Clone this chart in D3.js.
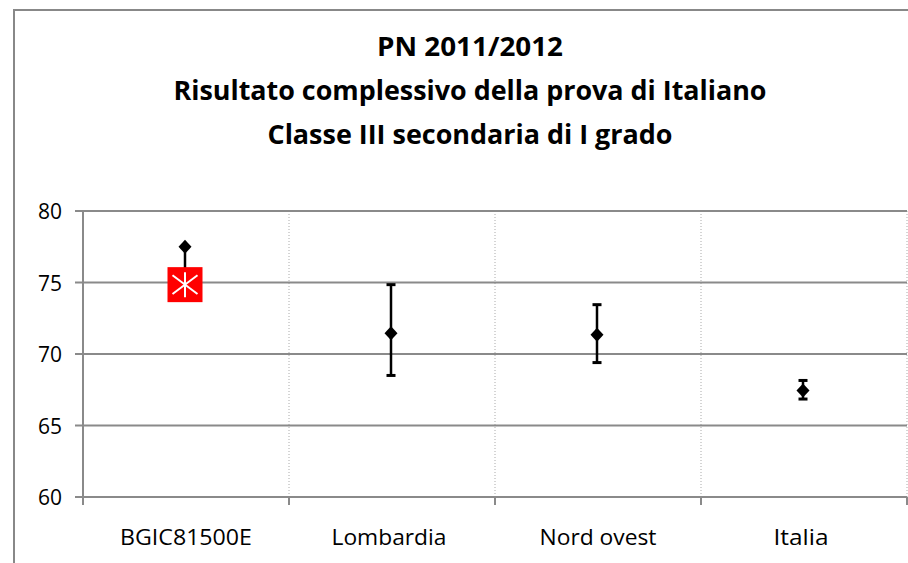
<!DOCTYPE html>
<html><head><meta charset="utf-8">
<script src="https://cdn.jsdelivr.net/npm/d3@7"></script>
<style>body{margin:0;background:#fff}svg{display:block}</style>
</head><body>
<svg id="c" width="908" height="563"></svg>
<script>
const titleLines = ["PN 2011/2012","Risultato complessivo della prova di Italiano","Classe III secondaria di I grado"];
const categories = ["BGIC81500E","Lombardia","Nord ovest","Italia"];
const means = [77.5, 71.45, 71.35, 67.45];
const lower = [74.85, 68.5, 69.4, 66.85];
const upper = [77.5, 74.85, 73.45, 68.15];
const schoolCategory = ["BGIC81500E"];
const schoolValue = [74.85];
const yTicks = [60,65,70,75,80];

const svg = d3.select("#c");
const W=908,H=563;
const L=83,R=907,T=211,B=497;
const x = d3.scaleBand().domain(categories).range([L,R]).padding(0);
const y = d3.scaleLinear().domain([60,80]).range([B,T]);

// outer border
svg.append("path").attr("d",`M14,${H+2} L14,10 L${W+2},10`).attr("fill","none").attr("stroke","#888").attr("stroke-width",2);

// title
const tw=[186,593,405], ty=[56,100,144];
svg.selectAll(".title").data(titleLines).join("text")
 .attr("x",470).attr("y",(d,i)=>ty[i]).attr("text-anchor","middle")
 .attr("font-family","'Open Sans', sans-serif").attr("font-weight","bold").attr("font-size",26)
 .attr("textLength",(d,i)=>tw[i]).attr("lengthAdjust","spacingAndGlyphs")
 .attr("fill","#000").text(d=>d);

// vertical dotted gridlines
const bounds = categories.map(c=>x(c)).concat([R]);
svg.selectAll(".vg").data(bounds.slice(1)).join("line")
 .attr("x1",d=>d).attr("x2",d=>d).attr("y1",T).attr("y2",B)
 .attr("stroke","#aaa").attr("stroke-width",1).attr("stroke-dasharray","1,2");

// horizontal gridlines
svg.selectAll(".hg").data(yTicks).join("line")
 .attr("x1",L-8).attr("x2",R).attr("y1",d=>y(d)).attr("y2",d=>y(d))
 .attr("stroke","#8a8a8a").attr("stroke-width",2);

// y axis line
svg.append("line").attr("x1",L).attr("x2",L).attr("y1",T).attr("y2",B+8).attr("stroke","#8a8a8a").attr("stroke-width",2);
// x ticks
svg.selectAll(".xt").data(bounds).join("line")
 .attr("x1",d=>d).attr("x2",d=>d).attr("y1",B).attr("y2",B+8)
 .attr("stroke","#8a8a8a").attr("stroke-width",2);

// y labels
svg.selectAll(".yl").data(yTicks).join("text")
 .attr("x",62).attr("y",d=>y(d)+8).attr("text-anchor","end")
 .attr("font-family","'Open Sans', sans-serif").attr("font-size",21).attr("fill","#000")
 .text(d=>d);

// x labels
const xw=[132,115,117,55];
svg.selectAll(".xl").data(categories).join("text")
 .attr("x",(d,i)=>x(d)+x.bandwidth()/2 - (i==3?3:(i==1?3:0))).attr("y",545).attr("text-anchor","middle")
 .attr("font-family","'Open Sans', sans-serif").attr("font-size",21).attr("fill","#000")
 .attr("textLength",(d,i)=>xw[i]).attr("lengthAdjust","spacingAndGlyphs")
 .text(d=>d);

const cx = c => x(c)+x.bandwidth()/2 - 1;
// error bars
const g = svg.append("g");
categories.forEach((c,i)=>{
  const X=cx(c);
  g.append("line").attr("x1",X).attr("x2",X).attr("y1",y(upper[i])).attr("y2",y(lower[i])).attr("stroke","#000").attr("stroke-width",2.5);
  [upper[i],lower[i]].forEach(v=>{
    g.append("line").attr("x1",X-4.5).attr("x2",X+4.5).attr("y1",y(v)).attr("y2",y(v)).attr("stroke","#000").attr("stroke-width",3);
  });
  const yy=y(means[i]);
  g.append("path").attr("d",`M${X},${yy-7} L${X+6.5},${yy} L${X},${yy+7} L${X-6.5},${yy} Z`).attr("fill","#000");
});

// school marker
schoolCategory.forEach((c,i)=>{
  const X=cx(c), Y=y(schoolValue[i]), s=17.5, a=12.5;
  svg.append("rect").attr("x",X-s).attr("y",Y-s).attr("width",2*s).attr("height",2*s).attr("fill","#ff0000");
  const ms = svg.append("g").attr("stroke","#fff").attr("stroke-width",2);
  ms.append("line").attr("x1",X).attr("x2",X).attr("y1",Y-a).attr("y2",Y+a);
  ms.append("line").attr("x1",X-a).attr("x2",X+a).attr("y1",Y-a*0.75).attr("y2",Y+a*0.75);
  ms.append("line").attr("x1",X-a).attr("x2",X+a).attr("y1",Y+a*0.75).attr("y2",Y-a*0.75);
});
</script>
</body></html>
